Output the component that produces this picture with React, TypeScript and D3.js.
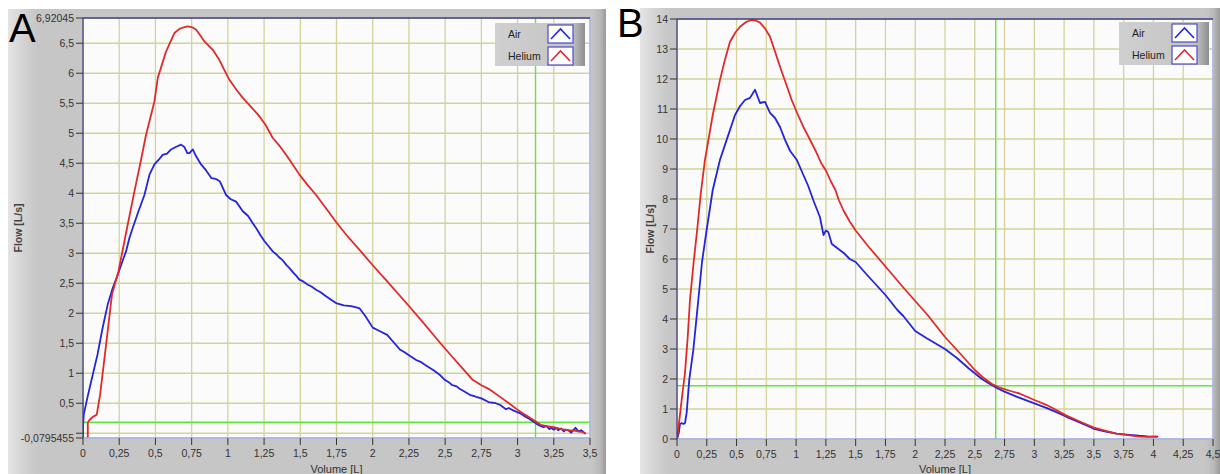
import React from "react";
import * as d3 from "d3";

type Pt = [number, number];

// Panel A (volume L, flow L/s)
const airA: Pt[] = [[0,-0.08],[0,0.1],[0.005,0.31],[0.03,0.59],[0.06,0.9],[0.1,1.31],[0.135,1.75],[0.17,2.14],[0.205,2.42],[0.24,2.64],[0.27,2.85],[0.297,3.03],[0.32,3.25],[0.343,3.42],[0.38,3.68],[0.424,3.97],[0.459,4.31],[0.493,4.48],[0.52,4.55],[0.55,4.64],[0.58,4.66],[0.608,4.73],[0.64,4.77],[0.677,4.81],[0.7,4.77],[0.72,4.67],[0.735,4.67],[0.758,4.73],[0.78,4.62],[0.815,4.48],[0.85,4.38],[0.887,4.25],[0.915,4.24],[0.944,4.2],[0.988,3.97],[1.02,3.9],[1.057,3.86],[1.103,3.7],[1.14,3.62],[1.172,3.5],[1.195,3.42],[1.225,3.3],[1.253,3.2],[1.28,3.12],[1.31,3.03],[1.34,2.97],[1.36,2.92],[1.38,2.88],[1.402,2.81],[1.43,2.74],[1.45,2.68],[1.47,2.63],[1.494,2.56],[1.52,2.53],[1.55,2.48],[1.58,2.44],[1.609,2.39],[1.64,2.35],[1.68,2.28],[1.71,2.23],[1.747,2.17],[1.8,2.13],[1.85,2.12],[1.88,2.1],[1.91,2.08],[1.95,1.95],[2.0,1.76],[2.05,1.7],[2.1,1.64],[2.15,1.5],[2.19,1.39],[2.22,1.35],[2.25,1.3],[2.3,1.22],[2.33,1.19],[2.36,1.14],[2.42,1.05],[2.46,0.98],[2.497,0.89],[2.53,0.84],[2.55,0.8],[2.58,0.78],[2.6,0.74],[2.63,0.7],[2.67,0.64],[2.7,0.62],[2.72,0.6],[2.75,0.58],[2.8,0.52],[2.85,0.5],[2.88,0.47],[2.92,0.4],[2.94,0.42],[2.97,0.38],[2.99,0.36],[3.02,0.33],[3.04,0.3],[3.05,0.28],[3.08,0.24],[3.11,0.19],[3.13,0.16],[3.15,0.13],[3.17,0.11],[3.18,0.1],[3.2,0.12],[3.22,0.07],[3.23,0.09],[3.25,0.06],[3.27,0.09],[3.28,0.05],[3.3,0.08],[3.32,0.03],[3.33,0.06],[3.35,0.05],[3.37,0.01],[3.38,0.04],[3.4,0.09],[3.42,0.03],[3.44,0.05],[3.46,0.01],[3.47,-0.01]];
const heliumA: Pt[] = [[0.033,-0.08],[0.033,0.18],[0.045,0.22],[0.067,0.27],[0.095,0.31],[0.118,0.64],[0.159,1.47],[0.2,2.31],[0.245,2.7],[0.304,3.42],[0.355,4.03],[0.4,4.55],[0.435,4.97],[0.493,5.53],[0.516,5.92],[0.573,6.36],[0.631,6.67],[0.666,6.74],[0.7,6.77],[0.723,6.78],[0.75,6.77],[0.78,6.73],[0.81,6.63],[0.838,6.53],[0.896,6.39],[0.942,6.22],[0.97,6.08],[1.011,5.89],[1.06,5.72],[1.103,5.59],[1.16,5.44],[1.218,5.28],[1.26,5.14],[1.31,4.92],[1.36,4.78],[1.402,4.64],[1.45,4.47],[1.494,4.31],[1.55,4.14],[1.609,3.97],[1.68,3.74],[1.747,3.52],[1.82,3.3],[1.9,3.08],[2.0,2.8],[2.1,2.53],[2.25,2.12],[2.35,1.84],[2.45,1.55],[2.55,1.27],[2.62,1.08],[2.69,0.89],[2.75,0.8],[2.8,0.74],[2.877,0.61],[2.94,0.5],[2.99,0.41],[3.05,0.31],[3.11,0.22],[3.16,0.14],[3.2,0.12],[3.25,0.1],[3.3,0.07],[3.35,0.05],[3.4,0.04],[3.45,0.02],[3.47,-0.01]];

// Panel B
const airB: Pt[] = [[0,0],[0.015,0.2],[0.025,0.5],[0.039,0.53],[0.055,0.5],[0.067,0.53],[0.081,0.87],[0.103,1.98],[0.137,2.97],[0.179,4.64],[0.21,5.9],[0.25,7.0],[0.3,8.3],[0.361,9.31],[0.417,9.97],[0.487,10.8],[0.53,11.1],[0.571,11.3],[0.613,11.37],[0.655,11.64],[0.697,11.2],[0.739,11.24],[0.781,10.87],[0.823,10.7],[0.865,10.4],[0.907,9.97],[0.95,9.6],[1.005,9.31],[1.05,8.9],[1.1,8.45],[1.15,7.9],[1.2,7.4],[1.23,6.8],[1.25,6.95],[1.27,6.9],[1.3,6.5],[1.35,6.35],[1.4,6.2],[1.45,6.0],[1.5,5.9],[1.6,5.45],[1.75,4.8],[1.85,4.3],[1.9,4.1],[2.0,3.6],[2.1,3.35],[2.25,3.0],[2.35,2.7],[2.45,2.35],[2.56,2.0],[2.62,1.85],[2.68,1.71],[2.75,1.58],[2.85,1.41],[2.95,1.26],[3.1,1.04],[3.2,0.87],[3.27,0.74],[3.4,0.52],[3.5,0.34],[3.6,0.25],[3.69,0.18],[3.8,0.14],[3.88,0.11],[3.95,0.09],[4.04,0.08]];
const heliumB: Pt[] = [[0,0],[0.01,0.3],[0.025,0.81],[0.045,1.5],[0.067,2.2],[0.09,3.4],[0.109,4.64],[0.14,5.9],[0.17,7.0],[0.2,8.2],[0.235,9.31],[0.3,10.8],[0.361,11.97],[0.4,12.6],[0.445,13.24],[0.49,13.55],[0.529,13.74],[0.58,13.9],[0.627,13.97],[0.66,13.95],[0.697,13.88],[0.74,13.68],[0.781,13.41],[0.82,12.95],[0.865,12.41],[0.91,11.9],[0.963,11.3],[1.01,10.85],[1.06,10.41],[1.12,9.95],[1.173,9.53],[1.21,9.2],[1.25,8.95],[1.29,8.6],[1.31,8.45],[1.33,8.3],[1.36,7.95],[1.4,7.6],[1.45,7.25],[1.5,6.95],[1.6,6.45],[1.75,5.75],[1.9,5.05],[2.0,4.6],[2.1,4.15],[2.25,3.4],[2.4,2.75],[2.5,2.3],[2.57,2.05],[2.65,1.82],[2.71,1.71],[2.8,1.6],[2.88,1.51],[3.0,1.3],[3.1,1.14],[3.2,0.93],[3.27,0.78],[3.4,0.55],[3.5,0.38],[3.6,0.27],[3.69,0.18],[3.8,0.12],[3.88,0.08],[3.95,0.07],[4.03,0.08]];

const xTicksA = [0, 0.25, 0.5, 0.75, 1, 1.25, 1.5, 1.75, 2, 2.25, 2.5, 2.75, 3, 3.25, 3.5];
const yTicksA = [-0.0795455, 0, 0.5, 1, 1.5, 2, 2.5, 3, 3.5, 4, 4.5, 5, 5.5, 6, 6.5, 6.92045];
const yHiddenA = [0];
const xTicksB = [0, 0.25, 0.5, 0.75, 1, 1.25, 1.5, 1.75, 2, 2.25, 2.5, 2.75, 3, 3.25, 3.5, 3.75, 4, 4.25, 4.5];
const yTicksB = [0, 1, 2, 3, 4, 5, 6, 7, 8, 9, 10, 11, 12, 13, 14];
const cursorA: Pt = [3.124, 0.182];
const cursorB: Pt = [2.676, 1.777];
const seriesNames = ["Air", "Helium"];
const seriesColors = ["#2424dc", "#e02a2a"];

const fmt = (v: number) => String(v).replace(".", ",");

interface PanelProps {
  letter: string;
  frame: { x: number; y: number; w: number; h: number };
  plot: { x0: number; x1: number; y0: number; y1: number };
  xDomain: [number, number];
  yDomain: [number, number];
  xTicks: number[];
  yTicks: number[];
  yHidden: number[];
  series: Pt[][];
  cursor: Pt;
  legend: { x: number; y: number };
  letterPos: { x: number; y: number };
  id: string;
}

function Panel(p: PanelProps) {
  const xs = d3.scaleLinear().domain(p.xDomain).range([p.plot.x0, p.plot.x1]);
  const ys = d3.scaleLinear().domain(p.yDomain).range([p.plot.y1, p.plot.y0]);
  const line = d3.line<Pt>().x((d) => xs(d[0])).y((d) => ys(d[1]));
  const { x0, x1, y0, y1 } = p.plot;
  const f = p.frame;
  const lg = p.legend;
  const font = "'Liberation Sans', Arial, sans-serif";
  return (
    <g>
      <defs>
        <linearGradient id={`fr${p.id}`} x1="0" x2="1" y1="0" y2="0">
          <stop offset="0" stopColor="#e4e4e4" />
          <stop offset={String(16 / f.w)} stopColor="#d2d2d2" />
          <stop offset={String(30 / f.w)} stopColor="#c6c6c6" />
          <stop offset={String(1 - 14 / f.w)} stopColor="#c6c6c6" />
          <stop offset={String(1 - 6 / f.w)} stopColor="#b8b8b8" />
          <stop offset="1" stopColor="#9a9a9a" />
        </linearGradient>
        <linearGradient id={`lg${p.id}`} x1="0" x2="1" y1="0" y2="0">
          <stop offset="0" stopColor="#d0d0d0" />
          <stop offset="0.85" stopColor="#c4c4c4" />
          <stop offset="1" stopColor="#8e8e8e" />
        </linearGradient>
        <clipPath id={`cp${p.id}`}>
          <rect x={x0} y={y0} width={x1 - x0} height={y1 - y0} />
        </clipPath>
      </defs>
      <rect x={f.x} y={f.y} width={f.w} height={f.h} fill={`url(#fr${p.id})`} />
      <rect x={x0} y={y0} width={x1 - x0} height={y1 - y0} fill="#fbfbfb" />
      {p.xTicks.map((t) => (
        <line key={"gx" + t} x1={xs(t)} x2={xs(t)} y1={y0} y2={y1} stroke="#d3d39a" strokeWidth={1.3} />
      ))}
      {p.yTicks.map((t) => (
        <line key={"gy" + t} x1={x0} x2={x1} y1={ys(t)} y2={ys(t)} stroke="#d3d39a" strokeWidth={1.3} />
      ))}
      <g clipPath={`url(#cp${p.id})`}>
        <line x1={x0} x2={x1} y1={ys(p.cursor[1])} y2={ys(p.cursor[1])} stroke="#5ee83a" strokeWidth={1.4} />
        <line x1={xs(p.cursor[0])} x2={xs(p.cursor[0])} y1={y0} y2={y1} stroke="#5ee83a" strokeWidth={1.4} />
        {p.series.map((s, i) => (
          <path key={"s" + i} d={line(s) || ""} fill="none" stroke={seriesColors[i]} strokeWidth={1.8} strokeLinejoin="round" />
        ))}
      </g>
      {/* plot border */}
      <line x1={x0} x2={x1} y1={y1} y2={y1} stroke="#9fb0f2" strokeWidth={1.5} />
      <line x1={x1} x2={x1} y1={y0} y2={y1} stroke="#a9b4ec" strokeWidth={1.5} />
      <line x1={x0} x2={x1} y1={y0} y2={y0} stroke="#3c3c8c" strokeWidth={1.3} />
      <line x1={x0} x2={x0} y1={y0} y2={y1} stroke="#3c3c8c" strokeWidth={1.3} />
      {/* y ticks */}
      {p.yTicks.map((t) => (
        <g key={"ty" + t}>
          <line x1={x0 - 7} x2={x0} y1={ys(t)} y2={ys(t)} stroke="#333" strokeWidth={1} />
          {p.yHidden.indexOf(t) < 0 && (
            <text x={x0 - 9} y={ys(t)} dy="0.35em" textAnchor="end" fontSize={10.5} fontFamily={font} fill="#333">
              {fmt(t)}
            </text>
          )}
        </g>
      ))}
      {p.xTicks.map((t) => (
        <g key={"tx" + t}>
          <line x1={xs(t)} x2={xs(t)} y1={y1} y2={y1 + 7} stroke="#333" strokeWidth={1} />
          <text x={xs(t)} y={y1 + 19} textAnchor="middle" fontSize={10.5} fontFamily={font} fill="#333">
            {fmt(t)}
          </text>
        </g>
      ))}
      <text x={(x0 + x1) / 2} y={473} textAnchor="middle" fontSize={11} fontFamily={font} fill="#333">
        Volume [L]
      </text>
      <text
        transform={`translate(${f.x + 14},${(y0 + y1) / 2}) rotate(-90)`}
        textAnchor="middle"
        fontSize={10.5}
        fontWeight="bold"
        fontFamily={font}
        fill="#444"
      >
        Flow [L/s]
      </text>
      {/* legend */}
      <rect x={lg.x} y={lg.y} width={90} height={43} fill={`url(#lg${p.id})`} />
      {seriesNames.map((n, i) => {
        const sy = lg.y + 2 + i * 22;
        return (
          <g key={"lg" + n}>
            <text x={lg.x + 13} y={sy + 13} fontSize={10.5} fontFamily={font} fill="#222">
              {n}
            </text>
            <rect x={lg.x + 53} y={sy} width={25} height={18} fill="#ffffff" stroke="#4a4ac8" strokeWidth={1.2} />
            <path
              d={`M${lg.x + 56},${sy + 14} L${lg.x + 65.5},${sy + 4} L${lg.x + 75},${sy + 14}`}
              fill="none"
              stroke={seriesColors[i]}
              strokeWidth={1.6}
            />
          </g>
        );
      })}
      <text x={p.letterPos.x} y={p.letterPos.y} fontSize={40} fontFamily={font} fill="#000">
        {p.letter}
      </text>
    </g>
  );
}

export default function App() {
  return (
    <svg width={1220} height={474} style={{ position: "absolute", left: 0, top: 0, background: "#fff" }}>
      <rect x={0} y={0} width={1220} height={474} fill="#fff" />
      <Panel
        id="A"
        letter="A"
        frame={{ x: 8, y: 9, w: 598, h: 465 }}
        plot={{ x0: 83, x1: 590, y0: 18, y1: 438 }}
        xDomain={[0, 3.5]}
        yDomain={[-0.0795455, 6.92045]}
        xTicks={xTicksA}
        yTicks={yTicksA}
        yHidden={yHiddenA}
        series={[airA, heliumA]}
        cursor={cursorA}
        legend={{ x: 495, y: 23 }}
        letterPos={{ x: 9, y: 42 }}
      />
      <Panel
        id="B"
        letter="B"
        frame={{ x: 640, y: 8, w: 580, h: 466 }}
        plot={{ x0: 677, x1: 1213, y0: 19, y1: 439 }}
        xDomain={[0, 4.5]}
        yDomain={[0, 14]}
        xTicks={xTicksB}
        yTicks={yTicksB}
        yHidden={[]}
        series={[airB, heliumB]}
        cursor={cursorB}
        legend={{ x: 1119, y: 22 }}
        letterPos={{ x: 617, y: 37 }}
      />
    </svg>
  );
}
